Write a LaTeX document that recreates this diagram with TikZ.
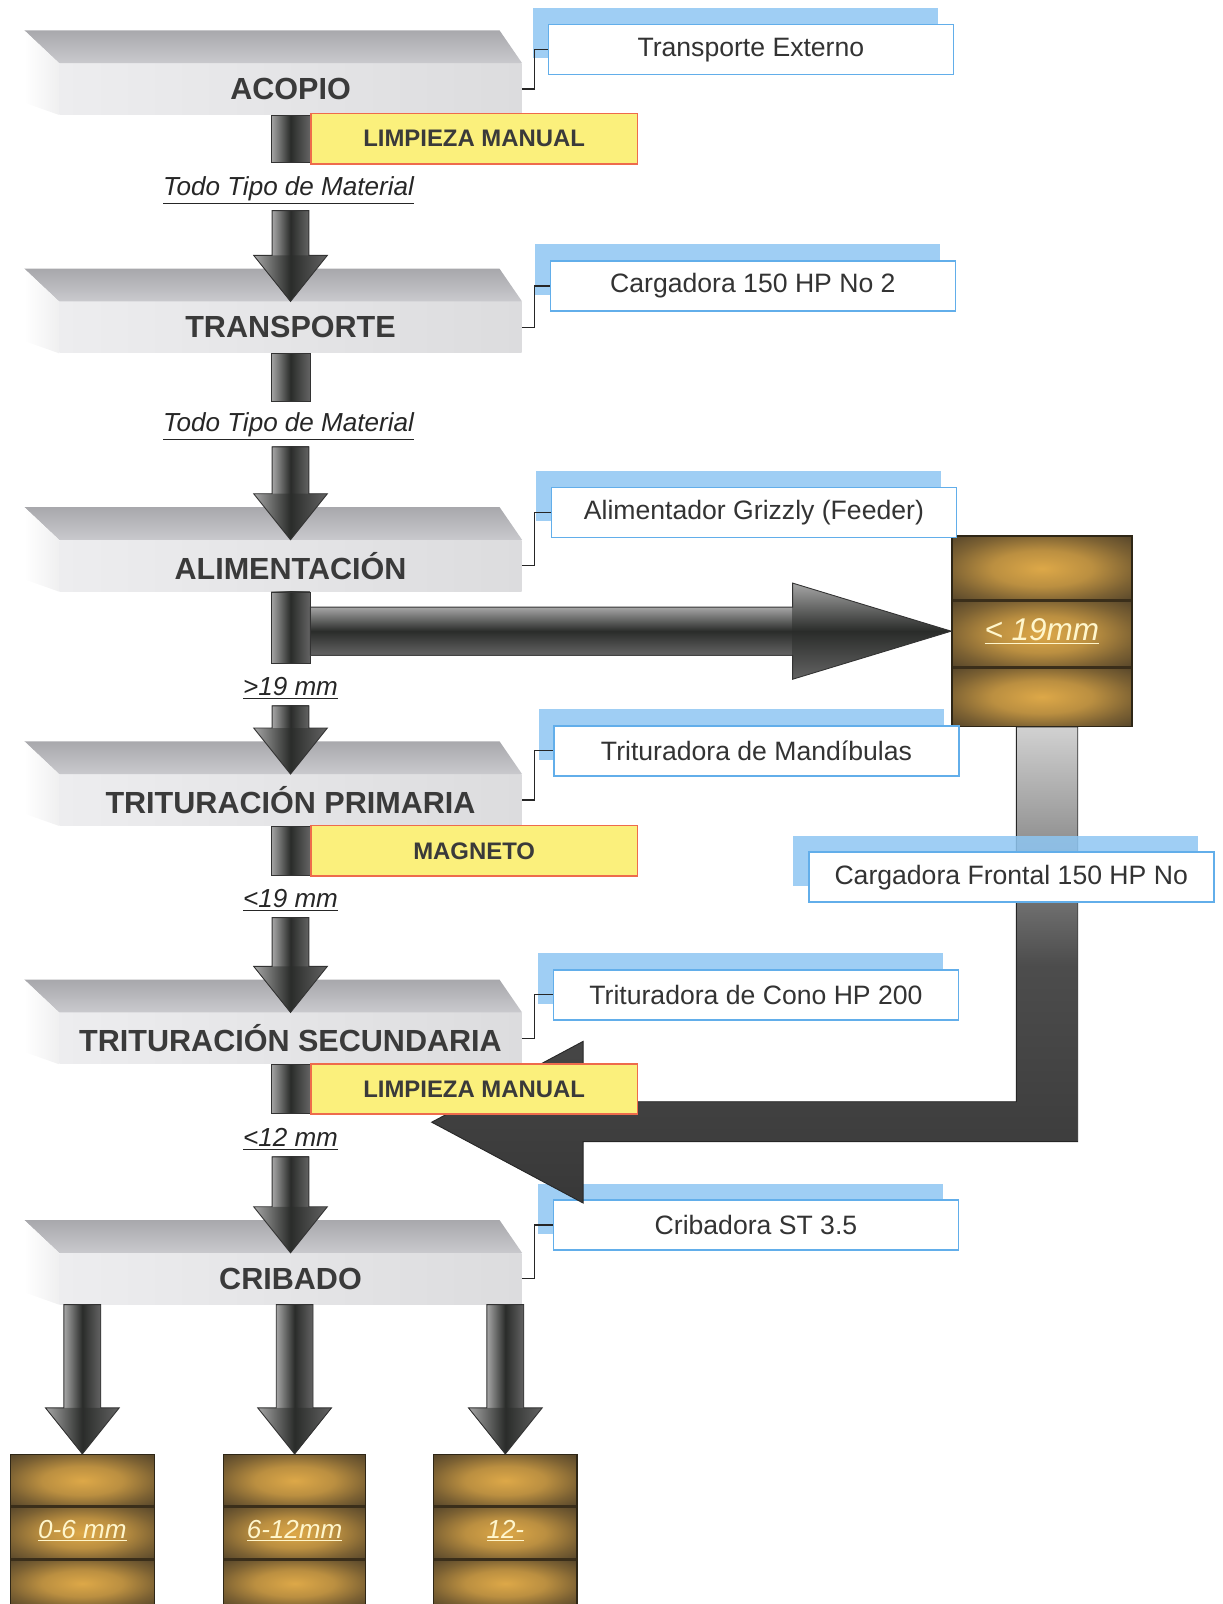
\documentclass[tikz,border=0pt]{standalone}
\usepackage{fontspec}
\setmainfont{Liberation Sans}
\usepackage{tikz}
\usetikzlibrary{positioning,calc,shadows}
\definecolor{slabTopB}{HTML}{A8A8AC}
\definecolor{slabTopF}{HTML}{C9C9CD}
\definecolor{slabL}{HTML}{EDEDEF}
\definecolor{slabR}{HTML}{DCDCDE}
\definecolor{slabText}{HTML}{3A3A3A}
\definecolor{barLight}{HTML}{A6A6A6}
\definecolor{barDark}{HTML}{2A2C2A}
\definecolor{lblEdge}{HTML}{62AEEA}
\definecolor{lblShadow}{HTML}{8EC6F2}
\definecolor{lblText}{HTML}{333333}
\definecolor{yelFill}{HTML}{FBF07C}
\definecolor{yelEdge}{HTML}{EE6B4C}
\definecolor{binDark}{HTML}{54442A}
\definecolor{binGold}{HTML}{DDA848}
\definecolor{binEdge}{HTML}{2E2616}
\definecolor{binLine}{HTML}{3A2E1A}
\definecolor{binText}{HTML}{FFF6CC}
\pgfdeclareradialshading{binglow}{\pgfpoint{0bp}{0bp}}{color(0bp)=(binGold); color(14bp)=(binGold!75!binDark); color(26bp)=(binGold!30!binDark); color(36bp)=(binDark); color(50bp)=(binDark)}

\newcommand{\fatdown}[2]{%
  \shade[fatv] ($(#2 |- #1)+(-18,0)$) rectangle ($(#2)+(18,45)$);
  \shade[fatv] ($(#2)+(-36,45)$) -- ($(#2)+(36,45)$) -- (#2) -- cycle;
  \draw[fatline] ($(#2 |- #1)+(-18,0)$) -- ($(#2)+(-18,45)$) -- ($(#2)+(-36,45)$) -- (#2)
    -- ($(#2)+(36,45)$) -- ($(#2)+(18,45)$) -- ($(#2 |- #1)+(18,0)$) -- cycle;}

\begin{document}
\begin{tikzpicture}[
  x=0.02cm, y=0.02cm,
  slab/.style={minimum width=9.04cm, minimum height=1cm, inner sep=0, left color=slabL, right color=slabR,
    text=slabText, font=\fontsize{17}{19}\selectfont\bfseries},
  slabtop/.style={top color=slabTopB, bottom color=slabTopF},
  slabside/.style={left color=white, right color=slabR!45!white},
  stem/.style={minimum width=0.76cm, inner sep=0, draw=black!80, line width=.4pt, anchor=north,
    left color=barLight, right color=barLight!60!black, middle color=barDark},
  fatv/.style={left color=barLight, right color=barLight!60!black, middle color=barDark},
  fath/.style={top color=barLight, bottom color=barLight!60!black, middle color=barDark},
  fatline/.style={draw=black!80, line width=.5pt},
  bent/.style={top color=black!18, bottom color=black!78, middle color=black!70, draw=black!85, line width=.5pt},
  tag/.style={font=\fontsize{14.5}{16}\selectfont\itshape, text=black!85},
  lbl/.style={draw=lblEdge, line width=.9pt, fill=white, minimum width=7.92cm, minimum height=0.98cm, inner sep=0,
    text=lblText, font=\fontsize{14.8}{16}\selectfont,
    general shadow={fill=lblShadow, fill opacity=.85, shadow xshift=-0.3cm, shadow yshift=0.32cm}},
  elbow/.style={draw=black!85, line width=.7pt},
  yel/.style={fill=yelFill, draw=yelEdge, line width=.8pt, minimum width=6.38cm, minimum height=0.98cm, inner sep=0,
    text=slabText, font=\fontsize{13.3}{15}\selectfont\bfseries},
  bin/.style={draw=binEdge, line width=.8pt, fill=binDark, inner sep=0, text=binText,
    font=\fontsize{14.5}{16}\selectfont\itshape,
    path picture={
      \coordinate (nw) at (path picture bounding box.north west);
      \coordinate (se) at (path picture bounding box.south east);
      \foreach \a/\b in {0/.34, .34/.69, .69/1}
        \shade[shading=binglow] ($(nw)!\a!(nw |- se)$) rectangle ($(se |- nw)!\b!(se)$);
      \foreach \a in {.34,.69}
        \draw[binLine, line width=1.6pt] ($(nw)!\a!(nw |- se)$) -- ($(se |- nw)!\a!(se)$);
    }},
]
  \useasboundingbox (0,0) rectangle (1195,-1568);

  \foreach \nm/\yy/\txt in {acopio/87/ACOPIO, transporte/320/TRANSPORTE, alimentacion/553/ALIMENTACIÓN,
      primaria/782/TRITURACIÓN PRIMARIA, secundaria/1015/TRITURACIÓN SECUNDARIA, cribado/1250/CRIBADO} {
    \node[slab] (\nm) at (284,-\yy) {\txt};
    \shade[slabtop] ($(\nm.north west)+(-34,32)$) -- ($(\nm.north east)+(-22,32)$) -- (\nm.north east) -- (\nm.north west) -- cycle;
    \shade[slabside] ($(\nm.north west)+(-34,32)$) -- (\nm.north west) -- (\nm.south west) -- ($(\nm.south west)+(-34,12)$) -- cycle;
  }

  \foreach \nm/\st in {acopio/46, transporte/47, alimentacion/70, primaria/48, secundaria/48}
    \node[stem, minimum height=\st*0.02cm] (\nm-stem) at (\nm.south) {};

  \node[tag] (tmA) at (282,-186) {\underline{Todo Tipo de Material}};
  \node[tag] (tmB) at (282,-417) {\underline{Todo Tipo de Material}};
  \node[tag] (g19) at (284,-673) {\underline{>19 mm}};
  \node[tag] (l19) at (284,-880) {\underline{<19 mm}};
  \node[tag] (l12) at (284,-1114) {\underline{<12 mm}};

  \node[bin, minimum width=3.52cm, minimum height=3.72cm, font=\fontsize{17.5}{19}\selectfont\itshape]
    (bin19) at (1018.5,-617) {\underline{< 19mm}};
  \node[bin, minimum width=2.82cm, minimum height=2.98cm] (bin1) at (80.5,-1496.5) {\underline{0-6 mm}};
  \node[bin, minimum width=2.78cm, minimum height=2.98cm] (bin2) at (288,-1496.5) {\underline{6-12mm}};
  \node[bin, minimum width=2.8cm, minimum height=2.98cm] (bin3) at (494,-1496.5) {\underline{12-}};

  \fatdown{tmA.south}{transporte.north}
  \fatdown{tmB.south}{alimentacion.north}
  \fatdown{g19.south}{primaria.north}
  \fatdown{l19.south}{secundaria.north}
  \fatdown{l12.south}{cribado.north}
  \fatdown{cribado.south}{bin1.north}
  \fatdown{cribado.south}{bin2.north}
  \fatdown{cribado.south}{bin3.north}

  \coordinate (hs) at (alimentacion-stem.east |- bin19.west);
  \shade[fath] ($(hs)+(0,23.5)$) rectangle ($(bin19.west)+(-155,-23.5)$);
  \shade[fath] ($(bin19.west)+(-155,47)$) -- (bin19.west) -- ($(bin19.west)+(-155,-47)$) -- cycle;
  \draw[fatline] ($(hs)+(0,23.5)$) -- ($(bin19.west)+(-155,23.5)$) -- ($(bin19.west)+(-155,47)$) -- (bin19.west)
    -- ($(bin19.west)+(-155,-47)$) -- ($(bin19.west)+(-155,-23.5)$) -- ($(hs)+(0,-23.5)$) -- cycle;

  \foreach \nm/\blk/\xx/\yy/\txt in {lbTrans/acopio/734/48.5/Transporte Externo,
      lbCarga/transporte/736/279.5/Cargadora 150 HP No 2,
      lbGrizzly/alimentacion/737/501/Alimentador Grizzly (Feeder),
      lbMand/primaria/739.5/734/Trituradora de Mandíbulas,
      lbCono/secundaria/739/972.5/Trituradora de Cono HP 200,
      lbCriba/cribado/739/1197.5/Cribadora ST 3.5} {
    \node[lbl] (\nm) at (\xx,-\yy) {\txt};
    \draw[elbow] (\blk.east) -- ++(12,0) |- (\nm.west);
  }

  \coordinate (ret) at (422,-1097);
  \coordinate (bA) at ($(bin19.south)+(-25,0)$);
  \coordinate (bB) at ($(bin19.south)+(35,0)$);
  \coordinate (bD) at ($(ret)+(148,-19)$);
  \coordinate (bH) at ($(ret)+(148,20)$);
  \shade[bent] (bA) -- (bB) -- (bB |- bD) -- (bD) -- ($(ret)+(148,-79)$) -- (ret) -- ($(ret)+(148,79)$)
    -- (bH) -- (bA |- bH) -- cycle;

  \node[lbl] (lbFrontal) at (988.5,-857.5) {Cargadora Frontal 150 HP No};

  \node[yel, right=0pt of acopio-stem] (limpA) {LIMPIEZA MANUAL};
  \node[yel, right=0pt of primaria-stem] (magneto) {MAGNETO};
  \node[yel, right=0pt of secundaria-stem] (limpB) {LIMPIEZA MANUAL};
\end{tikzpicture}
\end{document}
